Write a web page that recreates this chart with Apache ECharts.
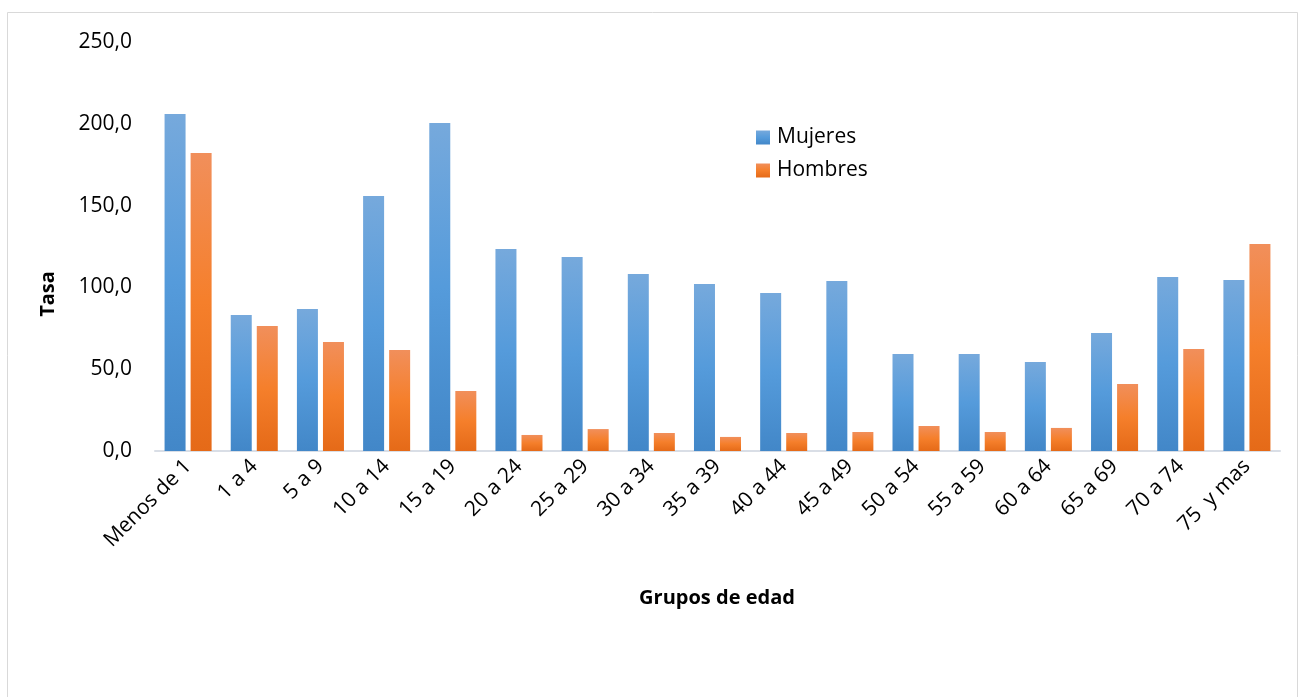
<!DOCTYPE html>
<html>
<head>
<meta charset="utf-8">
<script src="https://cdn.jsdelivr.net/npm/echarts@6/dist/echarts.min.js"></script>
<style>
html,body{margin:0;padding:0;background:#fff;}
#chart{width:1299px;height:697px;}
</style>
</head>
<body>
<div id="chart"></div>
<script>
const categories = ['Menos de 1','1 a 4','5 a 9','10 a 14','15 a 19','20 a 24','25 a 29','30 a 34','35 a 39','40 a 44','45 a 49','50 a 54','55 a 59','60 a 64','65 a 69','70 a 74','75  y mas'];
const mujeres = [206.0, 83.1, 86.8, 155.9, 200.5, 123.5, 118.6, 108.2, 102.1, 96.6, 103.9, 59.3, 59.3, 54.4, 72.1, 106.4, 104.5];
const hombres = [182.2, 76.4, 66.6, 61.7, 36.7, 9.8, 13.4, 11.0, 8.6, 11.0, 11.6, 15.3, 11.6, 14.1, 41.0, 62.3, 126.5];
const yTicks = [0, 50, 100, 150, 200, 250];

const FONT = 'Open Sans';
const chart = echarts.init(document.getElementById('chart'));

const blueGrad = new echarts.graphic.LinearGradient(0, 0, 0, 1, [
  {offset: 0, color: '#76a9dc'},
  {offset: 0.5, color: '#559bdb'},
  {offset: 1, color: '#4287c8'}
]);
const orangeGrad = new echarts.graphic.LinearGradient(0, 0, 0, 1, [
  {offset: 0, color: '#f18f5b'},
  {offset: 0.5, color: '#f57f2b'},
  {offset: 1, color: '#e56a18'}
]);

chart.setOption({
  animation: false,
  backgroundColor: '#fff',
  grid: {left: 155, right: 19, top: 42, bottom: 246, containLabel: false},
  legend: {
    orient: 'vertical',
    left: 751,
    top: 122,
    padding: 5,
    itemWidth: 14,
    itemHeight: 14,
    itemGap: 12,
    icon: 'rect',
    textStyle: {fontFamily: FONT, fontSize: 21, color: '#000', padding: [0, 0, 0, 2]},
    data: ['Mujeres', 'Hombres']
  },
  xAxis: {
    type: 'category',
    data: categories,
    axisLine: {lineStyle: {color: '#d9dee6', width: 2}},
    axisTick: {show: false},
    axisLabel: {rotate: 45, interval: 0, fontFamily: FONT, fontSize: 21, color: '#000', margin: 12}
  },
  yAxis: {
    type: 'value',
    min: yTicks[0],
    max: yTicks[yTicks.length - 1],
    interval: 50,
    splitLine: {show: false},
    axisLine: {show: false},
    axisTick: {show: false},
    axisLabel: {
      fontFamily: FONT, fontSize: 21, color: '#000', margin: 23,
      formatter: v => v.toFixed(1).replace('.', ',')
    }
  },
  series: [
    {name: 'Mujeres', type: 'bar', data: mujeres, barWidth: 21, barGap: '24%', itemStyle: {color: blueGrad}},
    {name: 'Hombres', type: 'bar', data: hombres, barWidth: 21, barGap: '24%', itemStyle: {color: orangeGrad}}
  ],
  graphic: [
    {type: 'rect', shape: {x: 7.5, y: 12.5, width: 1290, height: 700}, style: {fill: 'none', stroke: '#d9d9d9', lineWidth: 1}, silent: true},
    {type: 'text', x: 48, y: 294, rotation: Math.PI / 2,
      style: {text: 'Tasa', fontFamily: FONT, fontSize: 20, fontWeight: 'bold', fill: '#000', textAlign: 'center', textVerticalAlign: 'middle'}},
    {type: 'text', x: 717, y: 598,
      style: {text: 'Grupos de edad', fontFamily: FONT, fontSize: 20, fontWeight: 'bold', fill: '#000', textAlign: 'center', textVerticalAlign: 'middle'}}
  ]
});
</script>
</body>
</html>
